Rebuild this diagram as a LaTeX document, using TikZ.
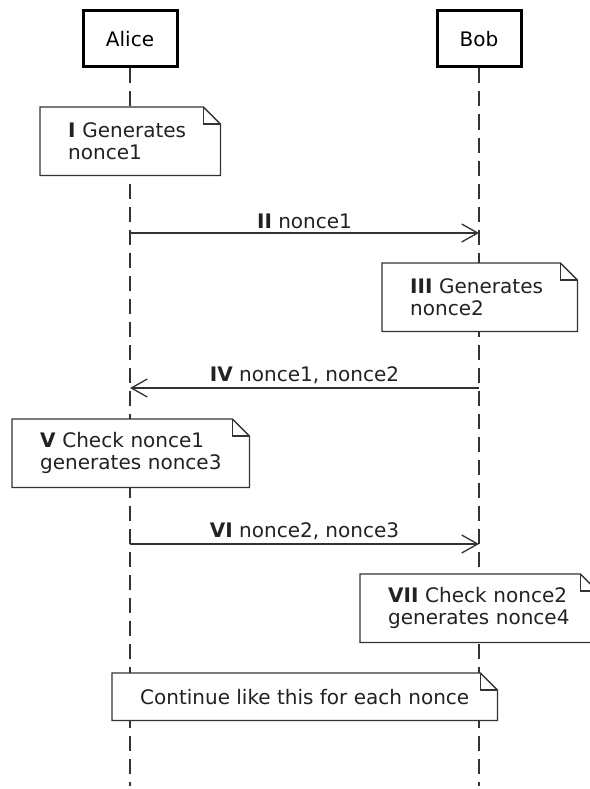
\documentclass[tikz,border=0pt]{standalone}
\usepackage{fontspec}
\setmainfont{DejaVu Sans}
\usetikzlibrary{arrows.meta,backgrounds}
\definecolor{ink}{HTML}{222222}
\definecolor{lineink}{HTML}{333333}
\tikzset{
  txt/.style={font=\fontsize{20}{22}\selectfont},
  actor/.style={draw=black, line width=3pt, fill=white, inner sep=0pt, txt},
  note/.style={fill=white, anchor=north west, inner ysep=0pt, inner xsep=28pt,
    align=left, text=ink, txt},
  notebd/.style={draw=lineink, line width=1.3pt, line join=miter},
  lifeline/.style={draw=lineink, line width=1.6pt, dash pattern=on 15pt off 8pt},
  msg/.style={draw=lineink, line width=1.3pt,
    -{Straight Barb[length=16pt,width=18pt,line width=1.3pt]}},
  msglabel/.style={above, inner sep=4pt, text=ink, txt},
}
\begin{document}
\begin{tikzpicture}[x=1pt,y=-1pt]
\useasboundingbox (0,0) rectangle (589,789);

% participants
\node[actor, minimum width=94pt, minimum height=56pt] (alice) at (130,39) {Alice};
\node[actor, minimum width=84pt, minimum height=56pt] (bob) at (479,39) {Bob};
\coordinate (aliceEnd) at (130,786);
\coordinate (bobEnd) at (479,786);

% lifelines behind everything
\begin{scope}[on background layer]
  \draw[lifeline] (alice.south) -- (aliceEnd);
  \draw[lifeline] (bob.south) -- (bobEnd);
\end{scope}

% notes (each line kept unbroken)
\node[note, minimum width=180pt, minimum height=68pt, text width=124pt] (n1) at (40,107)
  {\mbox{\textbf{I} Generates}\\\mbox{nonce1}};
\node[note, minimum width=195pt, minimum height=68pt, text width=139pt] (n3) at (382,263)
  {\mbox{\textbf{III} Generates}\\\mbox{nonce2}};
\node[note, minimum width=237pt, minimum height=68pt, text width=181pt] (n5) at (12,419)
  {\mbox{\textbf{V} Check nonce1}\\\mbox{generates nonce3}};
\node[note, minimum width=237pt, minimum height=68pt, text width=181pt] (n7) at (360,574)
  {\mbox{\textbf{VII} Check nonce2}\\\mbox{generates nonce4}};
\node[note, minimum width=385pt, minimum height=47pt, inner xsep=0pt, align=center] (n8) at (112,673)
  {Continue like this for each nonce};

% dog-eared outlines of the notes
\foreach \n in {n1,n3,n5,n7,n8} {
  \draw[notebd] (\n.north west) -- ([xshift=-17pt]\n.north east)
    -- ([yshift=-17pt]\n.north east) -- (\n.south east) -- (\n.south west) -- cycle;
  \draw[notebd] ([xshift=-17pt]\n.north east) -- ([xshift=-17pt,yshift=-17pt]\n.north east)
    -- ([yshift=-17pt]\n.north east);
}

% message anchors on the lifelines
\coordinate (a2) at (130,233); \coordinate (b2) at (479,233);
\coordinate (a4) at (130,388); \coordinate (b4) at (479,388);
\coordinate (a6) at (130,544); \coordinate (b6) at (479,544);

% messages
\draw[msg] (a2) -- node[msglabel] {\textbf{II} nonce1} (b2);
\draw[msg] (b4) -- node[msglabel] {\textbf{IV} nonce1, nonce2} (a4);
\draw[msg] (a6) -- node[msglabel] {\textbf{VI} nonce2, nonce3} (b6);
\end{tikzpicture}
\end{document}
